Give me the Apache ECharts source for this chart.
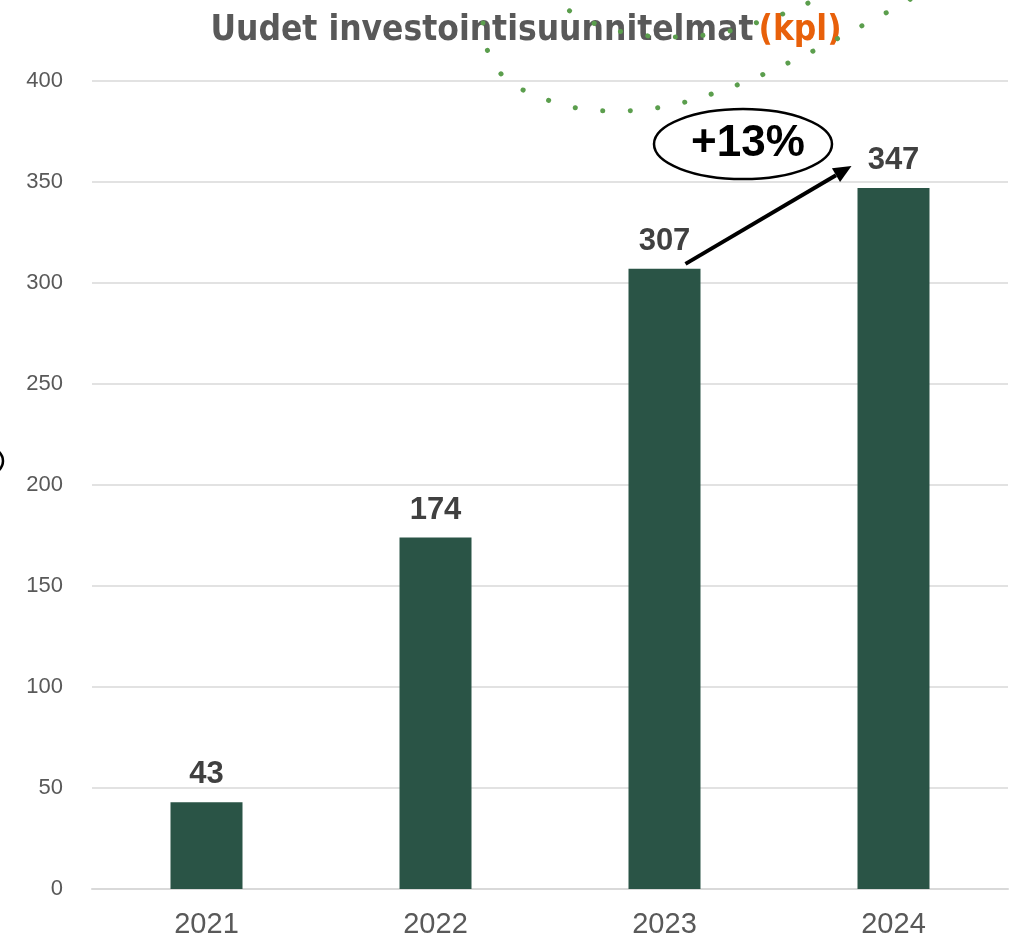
<!DOCTYPE html>
<html><head><meta charset="utf-8">
<script src="https://cdn.jsdelivr.net/npm/echarts@6/dist/echarts.min.js"></script>
<style>html,body{margin:0;padding:0;background:#fff}#c{width:1012px;height:941px}</style>
</head><body><div id="c"></div>
<script>
const categories = ['2021', '2022', '2023', '2024'];
const values = [43, 174, 307, 347];
const yTicks = [0, 50, 100, 150, 200, 250, 300, 350, 400];
const growthLabel = '+13%';
const titleMain = 'Uudet investointisuunnitelmat';
const titleUnit = '(kpl)';

const chart = echarts.init(document.getElementById('c'));
const font = 'Liberation Sans, Arial, sans-serif';
const titleFont = 'DejaVu Sans Condensed, Liberation Sans Narrow, sans-serif';
chart.setOption({
  animation: false,
  title: {
    text: '{a|' + titleMain + '} {b|' + titleUnit + '}',
    left: 521, textAlign: 'center', top: 8,
    textStyle: {
      rich: {
        a: { fontFamily: titleFont, fontWeight: 'bold', fontSize: 35, color: '#595959' },
        b: { fontFamily: titleFont, fontWeight: 'bold', fontSize: 35, color: '#e8600a' }
      }
    }
  },
  grid: { left: 92, right: 4, top: 81, bottom: 52, containLabel: false },
  xAxis: {
    type: 'category', data: categories,
    axisLine: { lineStyle: { color: '#d9d9d9', width: 2 } },
    axisTick: { show: false },
    axisLabel: { fontFamily: font, fontSize: 29, color: '#595959', margin: 21 }
  },
  yAxis: {
    type: 'value', min: yTicks[0], max: yTicks[yTicks.length - 1], interval: 50,
    axisLine: { show: false }, axisTick: { show: false },
    splitLine: { lineStyle: { color: '#d9d9d9', width: 1.5 } },
    axisLabel: { fontFamily: font, fontSize: 22, color: '#595959', margin: 29 }
  },
  series: [{
    type: 'bar', data: values, barWidth: 72,
    itemStyle: { color: '#2a5446' },
    label: { show: true, position: 'top', distance: 12, fontFamily: font, fontWeight: 'bold', fontSize: 31, color: '#404040' }
  }]
});

function drawOverlay() {
  const p23 = chart.convertToPixel({ xAxisIndex: 0, yAxisIndex: 0 }, ['2023', values[2]]);
  const p24 = chart.convertToPixel({ xAxisIndex: 0, yAxisIndex: 0 }, ['2024', values[3]]);
  const x0 = p23[0] + 21, y0 = p23[1] - 5;
  const x1 = p24[0] - 42, y1 = p24[1] - 22;
  const ang = Math.atan2(y1 - y0, x1 - x0);
  const ah = 18, aw = 8;
  const bx = x1 - ah * Math.cos(ang), by = y1 - ah * Math.sin(ang);
  const nx = -Math.sin(ang), ny = Math.cos(ang);
  const ex = (p23[0] + p24[0]) / 2 - 36, ey = p24[1] - 44;
  const dotStyle = { stroke: '#5b9e4d', lineWidth: 5, lineCap: 'round', lineDash: [0.1, 27.5], fill: null };
  chart.setOption({
    graphic: [
      { type: 'polyline', z: 100, shape: { smooth: 0.4, points: [[483,23],[488,52],[503,76],[527,92],[554,102],[582,109],[611,111],[639,110],[668,106],[696,99],[723,90],[750,80],[777,68],[803,56],[829,43],[854,30],[880,16],[905,3],[915,-5]] }, style: dotStyle, silent: true },
      { type: 'polyline', z: 100, shape: { smooth: 0.4, points: [[550,-8],[557,2],[581,17],[607,28],[635,34],[663,37],[692,36],[721,33],[749,25],[777,16],[803,6],[815,-2]] }, style: dotStyle, silent: true },
      { type: 'ellipse', z: 100, shape: { cx: -34, cy: 461, rx: 37, ry: 20 }, style: { fill: null, stroke: '#000', lineWidth: 2.5 }, silent: true },
      { type: 'ellipse', z: 100, shape: { cx: ex, cy: ey, rx: 89, ry: 35 }, style: { fill: '#fff', stroke: '#000', lineWidth: 2.5 } },
      { type: 'text', z: 101, x: ex + 5, y: ey, style: { text: growthLabel, fontFamily: font, fontWeight: 'bold', fontSize: 44, fill: '#000', align: 'center', verticalAlign: 'middle' } },
      { type: 'line', z: 100, shape: { x1: x0, y1: y0, x2: bx, y2: by }, style: { stroke: '#000', lineWidth: 4 } },
      { type: 'polygon', z: 100, shape: { points: [[x1, y1], [bx + nx * aw, by + ny * aw], [bx - nx * aw, by - ny * aw]] }, style: { fill: '#000' } }
    ]
  });
}
drawOverlay();
</script></body></html>
